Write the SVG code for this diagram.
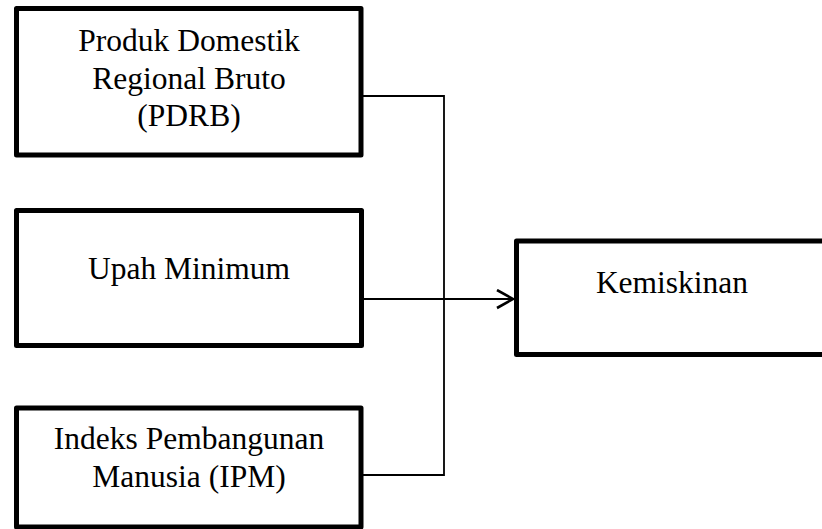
<svg xmlns="http://www.w3.org/2000/svg" width="822" height="529" viewBox="0 0 822 529">
<defs>
<style>
.box{fill:#fff;stroke:#000;stroke-width:5;stroke-linejoin:round}
.lbl{font-family:"Liberation Serif","Times New Roman",serif;font-size:31.5px;fill:#000;text-anchor:middle}
.con{fill:none;stroke:#000;stroke-width:1.8}
</style>
<marker id="arr" markerUnits="userSpaceOnUse" markerWidth="20" markerHeight="22" refX="17" refY="10" orient="auto">
<path d="M1,1 L17,10 L1,19" fill="none" stroke="#000" stroke-width="2.6"/>
</marker>
</defs>
<rect width="822" height="529" fill="#fff"/>
<g id="connectors">
<path class="con" d="M363,96 H444 V475 H363"/>
<path class="con" d="M360,299 H513" marker-end="url(#arr)"/>
</g>
<g id="pdrb">
<rect class="box" x="16.5" y="8.5" width="344.5" height="146.5"/>
<text class="lbl" x="189" y="51">Produk Domestik</text>
<text class="lbl" x="189" y="88.5">Regional Bruto</text>
<text class="lbl" x="189" y="126">(PDRB)</text>
</g>
<g id="upah">
<rect class="box" x="16.5" y="210.5" width="345" height="135"/>
<text class="lbl" x="189" y="279">Upah Minimum</text>
</g>
<g id="ipm">
<rect class="box" x="16.5" y="408" width="344.5" height="119"/>
<text class="lbl" x="189" y="449">Indeks Pembangunan</text>
<text class="lbl" x="189" y="487">Manusia (IPM)</text>
</g>
<g id="kemiskinan">
<rect class="box" x="516.5" y="241" width="312" height="113.5"/>
<text class="lbl" x="672" y="292.5">Kemiskinan</text>
</g>
</svg>
